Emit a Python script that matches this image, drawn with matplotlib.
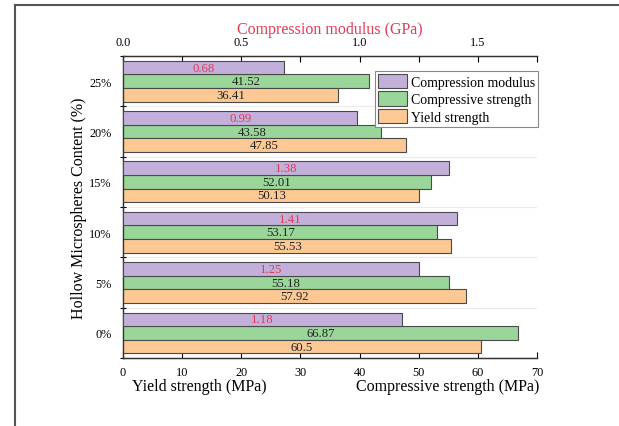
import matplotlib
matplotlib.use("Agg")
import matplotlib.pyplot as plt
from matplotlib.lines import Line2D
import numpy as np

plt.rcParams['font.family'] = ['Liberation Serif', 'DejaVu Serif']

categories = ["0%", "5%", "10%", "15%", "20%", "25%"]
compression_modulus = [1.18, 1.25, 1.41, 1.38, 0.99, 0.68]   # GPa
compressive_strength = [66.87, 55.18, 53.17, 52.01, 43.58, 41.52]  # MPa
yield_strength = [60.5, 57.92, 55.53, 50.13, 47.85, 36.41]  # MPa
cm_labels = ["1.18", "1.25", "1.41", "1.38", "0.99", "0.68"]
cs_labels = ["66.87", "55.18", "53.17", "52.01", "43.58", "41.52"]
ys_labels = ["60.5", "57.92", "55.53", "50.13", "47.85", "36.41"]

c_purple = "#C2B0DA"
c_green = "#9AD69A"
c_orange = "#FCC894"
c_edge = "#4a4a4a"
c_red = "#E33A55"

fig = plt.figure(figsize=(6.19, 4.27), dpi=100)
ax = fig.add_axes([0.1987, 0.159, 0.8675 - 0.1987, 0.8665 - 0.159])
ax2 = ax.twiny()

y = np.arange(len(categories))
h = 0.27
off = 0.27

ax.barh(y, compressive_strength, height=h, color=c_green, edgecolor=c_edge, linewidth=0.8, zorder=3)
ax.barh(y - off, yield_strength, height=h, color=c_orange, edgecolor=c_edge, linewidth=0.8, zorder=3)
ax2.barh(y + off, compression_modulus, height=h, color=c_purple, edgecolor=c_edge, linewidth=0.8, zorder=3)

fs_val = 9.2
for yi, v, s in zip(y, compressive_strength, cs_labels):
    ax.text(v / 2, yi, s, ha='center', va='center', fontsize=fs_val, color='#222222', zorder=4)
for yi, v, s in zip(y, yield_strength, ys_labels):
    ax.text(v / 2, yi - off, s, ha='center', va='center', fontsize=fs_val, color='#222222', zorder=4)
for yi, v, s in zip(y, compression_modulus, cm_labels):
    ax2.text(v / 2, yi + off, s, ha='center', va='center', fontsize=fs_val, color=c_red, zorder=4)

ax.set_xlim(0, 70)
ax2.set_xlim(0, 1.75)
ax.set_ylim(-0.5, len(categories) - 0.5)

fs_tick = 8.8
ax.set_xticks(np.arange(0, 71, 10))
ax.tick_params(axis='x', direction='in', length=4, width=0.8, labelsize=fs_tick, pad=6)
ax2.set_xticks([0, 0.5, 1.0, 1.5])
ax2.set_xticks([0.25, 0.75, 1.25, 1.75], minor=True)
ax2.set_xticklabels(["0.0", "0.5", "1.0", "1.5"])
ax2.tick_params(axis='x', which='both', direction='in', length=4, width=0.8, labelsize=fs_tick, pad=6)

ax.set_yticks(y)
ax.set_yticklabels(categories)
ax.set_yticks(np.arange(-0.5, len(categories), 1.0), minor=True)
ax.tick_params(axis='y', which='major', length=0, labelsize=fs_tick, pad=8)
ax.tick_params(axis='y', which='minor', direction='inout', length=5, width=0.8)
ax.grid(axis='y', which='minor', color='#ebebeb', linewidth=0.8, zorder=0)
ax2.tick_params(axis='y', which='both', length=0)

for a in (ax, ax2):
    a.spines['right'].set_visible(False)
    for s in ('left', 'top', 'bottom'):
        a.spines[s].set_linewidth(0.9)
        a.spines[s].set_color('#333333')

fs_lab = 11.5
ax.set_ylabel("Hollow Microspheres Content (%)", fontsize=fs_lab, labelpad=1.5)
ax2.set_xlabel("Compression modulus (GPa)", fontsize=fs_lab, color=c_red, labelpad=2)

fig.text(132 / 619, 1 - 387 / 427, "Yield strength (MPa)", fontsize=fs_lab, ha='left', va='center')
fig.text(539 / 619, 1 - 387 / 427, "Compressive strength (MPa)", fontsize=fs_lab, ha='right', va='center')

handles = [
    plt.Rectangle((0, 0), 1, 1, facecolor=c_purple, edgecolor=c_edge, linewidth=0.8),
    plt.Rectangle((0, 0), 1, 1, facecolor=c_green, edgecolor=c_edge, linewidth=0.8),
    plt.Rectangle((0, 0), 1, 1, facecolor=c_orange, edgecolor=c_edge, linewidth=0.8),
]
leg = ax2.legend(handles, ["Compression modulus", "Compressive strength", "Yield strength"],
                 loc='upper right', bbox_to_anchor=(1.003, 0.95), fontsize=10, fancybox=False,
                 framealpha=1, edgecolor='#888888', borderpad=0.2, handlelength=2.1,
                 handleheight=1.2, handletextpad=0.3, labelspacing=0.2, borderaxespad=0.0)
leg.get_frame().set_linewidth(0.8)

# outer frame (cropped box)
fig.add_artist(Line2D([15 / 619, 15 / 619], [0, 1 - 6 / 427], color='#555555', linewidth=1.5))
fig.add_artist(Line2D([15 / 619, 1], [1 - 6 / 427, 1 - 6 / 427], color='#555555', linewidth=1.5))

fig.savefig("out.png", dpi=100)
